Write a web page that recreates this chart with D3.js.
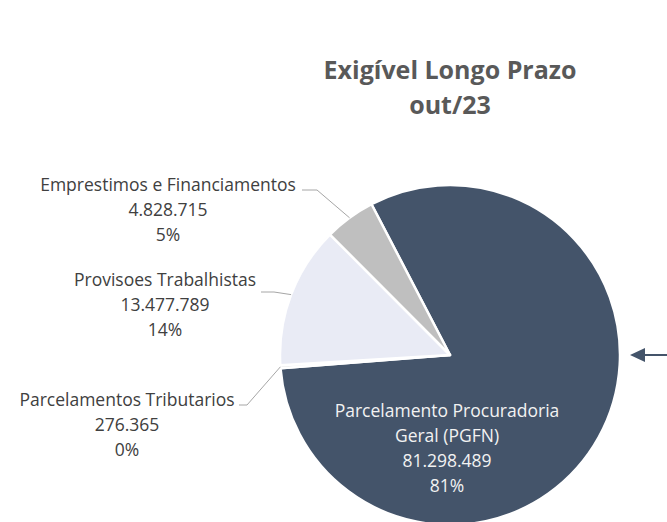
<!DOCTYPE html>
<html>
<head>
<meta charset="utf-8">
<script src="https://cdn.jsdelivr.net/npm/d3@7"></script>
<style>
  html, body { margin: 0; padding: 0; background: #ffffff; }
  svg { display: block; }
</style>
</head>
<body>
<svg id="chart" width="667" height="522"></svg>
<script>
// ---- data ----
const titleLines = ["Exigível Longo Prazo", "out/23"];
const categories = [
  "Parcelamento Procuradoria Geral (PGFN)",
  "Parcelamentos Tributarios",
  "Provisoes Trabalhistas",
  "Emprestimos e Financiamentos"
];
const values = [81298489, 276365, 13477789, 4828715];
const percentLabels = ["81%", "0%", "14%", "5%"];
const colors = ["#44546A", "#D9D9D9", "#E9EBF5", "#BFBFBF"];

// ---- layout ----
const W = 667, H = 522;
const cx = 450, cy = 355, R = 170;
const startDeg = -27.5;

const svg = d3.select("#chart");
const fmt = d3.formatLocale({decimal: ",", thousands: ".", grouping: [3], currency: ["R$", ""]}).format(",d");

// title
svg.append("g").selectAll("text").data(titleLines).join("text")
  .attr("x", 450)
  .attr("y", (d, i) => 79 + i * 35)
  .attr("text-anchor", "middle")
  .attr("font-family", "'Open Sans', sans-serif")
  .attr("font-weight", "bold")
  .attr("font-size", 25)
  .attr("fill", "#595959")
  .text(d => d);

const data = categories.map((c, i) => ({name: c, value: values[i], pct: percentLabels[i], color: colors[i]}));

const pie = d3.pie().sort(null).value(d => d.value)
  .startAngle(startDeg * Math.PI / 180)
  .endAngle(startDeg * Math.PI / 180 + 2 * Math.PI);
const arcs = pie(data);
const arc = d3.arc().innerRadius(0).outerRadius(R);

const g = svg.append("g").attr("transform", `translate(${cx},${cy})`);
g.selectAll("path").data(arcs).join("path")
  .attr("d", arc)
  .attr("fill", d => d.data.color)
  .attr("stroke", "#ffffff")
  .attr("stroke-width", 2.5)
  .attr("stroke-linejoin", "round");

// label layout (relative to pie center): text center x, first baseline y, leader elbow, leader text end
const labelLayout = [
  {inside: true, tx: -3, ty: 62},
  {tx: -323, ty: 51, ex: -203, ey: 50, sx: -211},
  {tx: -285, ty: -69, ex: -176, ey: -63, sx: -189},
  {tx: -282, ty: -164, ex: -133, ey: -165, sx: -148}
];
const lineH = 25;

arcs.forEach((a, i) => {
  const L = labelLayout[i];
  const lines = [];
  if (L.inside) {
    lines.push("Parcelamento Procuradoria", "Geral (PGFN)");
  } else {
    lines.push(a.data.name);
  }
  lines.push(fmt(a.data.value), a.data.pct);
  const t = g.append("text")
    .attr("text-anchor", "middle")
    .attr("font-family", "'Open Sans', sans-serif")
    .attr("font-size", 17.5)
    .attr("fill", L.inside ? "#F2F2F2" : "#404040");
  lines.forEach((ln, k) => {
    t.append("tspan").attr("x", L.tx).attr("y", L.ty + k * lineH).text(ln);
  });
  if (!L.inside) {
    const mid = (a.startAngle + a.endAngle) / 2;
    const px = Math.sin(mid) * R, py = -Math.cos(mid) * R;
    g.append("polyline")
      .attr("points", [[L.sx, L.ey], [L.ex, L.ey], [px, py]].map(p => p.join(",")).join(" "))
      .attr("fill", "none")
      .attr("stroke", "#A6A6A6")
      .attr("stroke-width", 1);
  }
});

// arrow at right
const arrow = svg.append("g");
arrow.append("line")
  .attr("x1", 644).attr("y1", cy).attr("x2", W).attr("y2", cy)
  .attr("stroke", "#44546A").attr("stroke-width", 2);
arrow.append("path")
  .attr("d", d3.line()([[630, cy], [645, cy - 7], [645, cy + 7]]) + "Z")
  .attr("fill", "#44546A");
</script>
</body>
</html>
